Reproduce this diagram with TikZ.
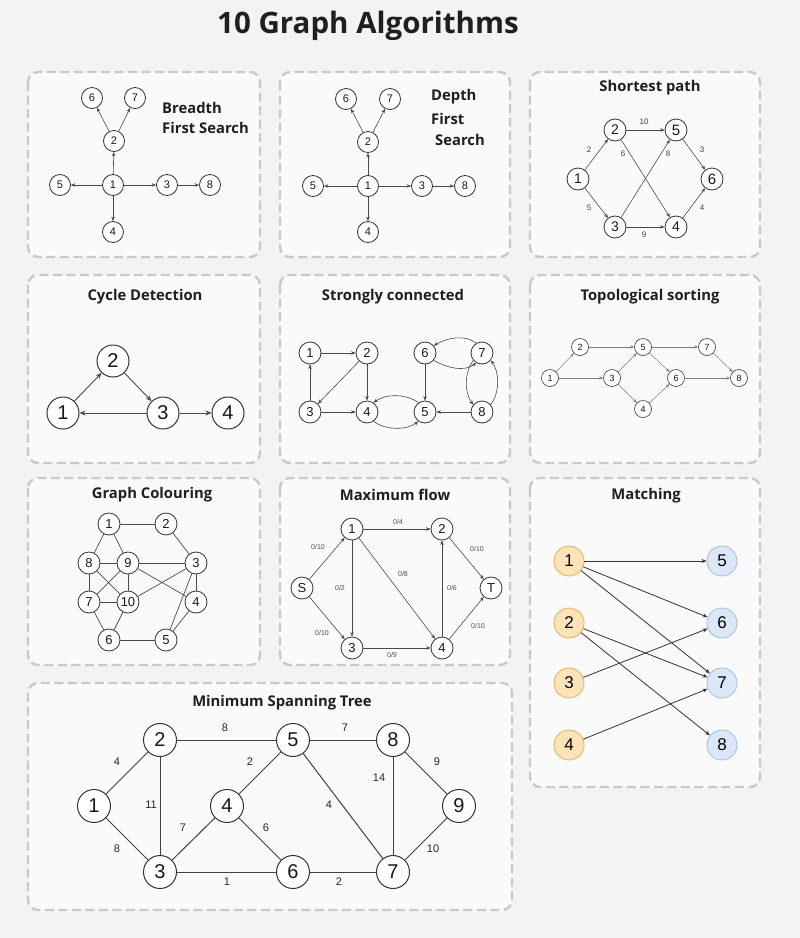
\documentclass[tikz,border=0pt]{standalone}
\usepackage{fontspec}
\setmainfont{Liberation Sans}
\newfontfamily\tf{Open Sans}
\usetikzlibrary{arrows.meta}
\definecolor{bgc}{HTML}{F3F3F3}
\definecolor{pnl}{HTML}{FAFAFA}
\definecolor{pbd}{HTML}{C9C9C9}
\definecolor{edg}{HTML}{4A4A4A}
\definecolor{orf}{HTML}{FCE3B8}
\definecolor{ord}{HTML}{E8B466}
\definecolor{blf}{HTML}{DCE8F7}
\definecolor{bld}{HTML}{A3C2E6}
\tikzset{
  panel/.style={draw=pbd, fill=pnl, line width=2.4pt, dash pattern=on 9pt off 4.5pt, rounded corners=10pt},
  ptitle/.style={font=\tf\bfseries\fontsize{14.8}{16}\selectfont, text=black!88, inner sep=0pt},
  vx/.style={circle, draw=black!80, fill=white, line width=0.8pt, inner sep=0pt, text=black!90},
  vbfs/.style={vx, minimum size=21pt, font=\fontsize{11}{12}\selectfont},
  vsp/.style={vx, minimum size=22pt, font=\fontsize{14}{15}\selectfont},
  vbig/.style={vx, minimum size=32pt, line width=1pt, font=\fontsize{20}{22}\selectfont},
  vmid/.style={vx, minimum size=22pt, font=\fontsize{13}{14}\selectfont},
  vtop/.style={vx, minimum size=17pt, line width=0.6pt, font=\fontsize{9}{10}\selectfont},
  vml/.style={circle, inner sep=0pt, minimum size=30pt, line width=0.9pt, draw=ord, fill=orf, font=\fontsize{17}{18}\selectfont},
  vmr/.style={circle, inner sep=0pt, minimum size=30pt, line width=0.9pt, draw=bld, fill=blf, font=\fontsize{17}{18}\selectfont},
  arr/.style={draw=edg, line width=0.6pt, -{Stealth[length=4.5pt,width=3.5pt]}},
  arrm/.style={draw=black!80, line width=0.8pt, -{Stealth[length=5pt,width=4pt]}},
  arrl/.style={draw=black!50, line width=0.5pt, -{Stealth[length=4pt,width=3pt]}},
  arrb/.style={draw=edg, line width=0.9pt, -{Stealth[length=6pt,width=5pt]}},
  ln/.style={draw=edg, line width=0.7pt},
  lnb/.style={draw=black!75, line width=1pt},
  wl/.style={font=\fontsize{8}{9}\selectfont, text=black!75, inner sep=0pt},
  wf/.style={font=\fontsize{7}{8}\selectfont, text=black!70, inner sep=0pt},
  wm/.style={font=\fontsize{11}{12}\selectfont, text=black!85, inner sep=0pt},
}
\begin{document}
\begin{tikzpicture}[x=1pt,y=-1pt]
\useasboundingbox (0,0) rectangle (800,938);
\fill[bgc] (0,0) rectangle (800,938);

% main title
\node[font=\tf\bfseries\fontsize{29.5}{31}\selectfont, text=black!88, inner sep=0pt] (maintitle) at (368,26) {10 Graph Algorithms};

% panels
\draw[panel] (28,72) rectangle (260,257);
\draw[panel] (280,72) rectangle (510,257);
\draw[panel] (530,72) rectangle (760,257);
\draw[panel] (28,275) rectangle (260,463);
\draw[panel] (280,275) rectangle (510,463);
\draw[panel] (530,275) rectangle (760,463);
\draw[panel] (28,478) rectangle (260,665);
\draw[panel] (280,478) rectangle (510,665);
\draw[panel] (530,478) rectangle (760,787);
\draw[panel] (28,683) rectangle (512,910);

% ---------- BFS ----------
\node[ptitle, anchor=west] (bt1) at (162,108) {Breadth};
\node[ptitle, anchor=west] (bt2) at (162,128) {First Search};
\node[vbfs] (b1) at (113,185) {1};
\node[vbfs] (b2) at (114,141) {2};
\node[vbfs] (b6) at (92,98) {6};
\node[vbfs] (b7) at (135,98) {7};
\node[vbfs] (b5) at (60,185) {5};
\node[vbfs] (b3) at (167,185) {3};
\node[vbfs] (b8) at (210,185) {8};
\node[vbfs] (b4) at (113,232) {4};
\draw[arr] (b1) -- (b2);
\draw[arr] (b2) -- (b6);
\draw[arr] (b2) -- (b7);
\draw[arr] (b1) -- (b5);
\draw[arr] (b1) -- (b3);
\draw[arr] (b3) -- (b8);
\draw[arr] (b1) -- (b4);

% ---------- DFS ----------
\node[ptitle, anchor=west] (dt1) at (431,97) {Depth};
\node[ptitle, anchor=west] (dt2) at (431,119) {First};
\node[ptitle, anchor=west] (dt3) at (435,140) {Search};
\node[vbfs] (d1) at (368,186) {1};
\node[vbfs] (d2) at (368,142) {2};
\node[vbfs] (d6) at (346,99) {6};
\node[vbfs] (d7) at (390,99) {7};
\node[vbfs] (d5) at (313,186) {5};
\node[vbfs] (d3) at (422,186) {3};
\node[vbfs] (d8) at (465,186) {8};
\node[vbfs] (d4) at (368,232) {4};
\draw[arr] (d1) -- (d2);
\draw[arr] (d2) -- (d6);
\draw[arr] (d2) -- (d7);
\draw[arr] (d1) -- (d5);
\draw[arr] (d1) -- (d3);
\draw[arr] (d3) -- (d8);
\draw[arr] (d1) -- (d4);

% ---------- Shortest path ----------
\node[ptitle] (spt) at (650,88) {Shortest path};
\node[vsp] (sp1) at (578,179) {1};
\node[vsp] (sp2) at (615,130) {2};
\node[vsp, font=\fontsize{15}{16}\selectfont] (sp5) at (676,130) {5};
\node[vsp, font=\fontsize{15}{16}\selectfont] (sp6) at (712,179) {6};
\node[vsp] (sp3) at (615,227) {3};
\node[vsp] (sp4) at (676,227) {4};
\draw[arr] (sp1) -- (sp2);
\draw[arr] (sp1) -- (sp3);
\draw[arr] (sp2) -- (sp5);
\draw[arr] (sp2) -- (sp4);
\draw[arr] (sp3) -- (sp5);
\draw[arr] (sp3) -- (sp4);
\draw[arr] (sp5) -- (sp6);
\draw[arr] (sp4) -- (sp6);
\node[wl] (spw1) at (644,122) {10};
\node[wl] (spw2) at (589,150) {2};
\node[wl] (spw3) at (623,154) {6};
\node[wl] (spw4) at (668,154) {8};
\node[wl] (spw5) at (702,150) {3};
\node[wl] (spw6) at (589,208) {5};
\node[wl] (spw7) at (702,208) {4};
\node[wl] (spw8) at (644,235) {9};

% ---------- Cycle detection ----------
\node[ptitle] (cyt) at (145,297) {Cycle Detection};
\node[vbig] (c1) at (63,413) {1};
\node[vbig] (c2) at (113,361) {2};
\node[vbig] (c3) at (163,413) {3};
\node[vbig] (c4) at (228,413) {4};
\draw[arrb] (c1) -- (c2);
\draw[arrb] (c2) -- (c3);
\draw[arrb] (c3) -- (c1);
\draw[arrb] (c3) -- (c4);

% ---------- Strongly connected ----------
\node[ptitle] (sct) at (393,297) {Strongly connected};
\node[vmid] (s1) at (310,353) {1};
\node[vmid] (s2) at (367,353) {2};
\node[vmid] (s6) at (425,353) {6};
\node[vmid] (s7) at (482,353) {7};
\node[vmid] (s3) at (310,412) {3};
\node[vmid] (s4) at (367,412) {4};
\node[vmid] (s5) at (425,412) {5};
\node[vmid] (s8) at (482,412) {8};
\draw[arr] (s1) -- (s2);
\draw[arr] (s3) -- (s1);
\draw[arr] (s2) -- (s3);
\draw[arr] (s2) -- (s4);
\draw[arr] (s3) -- (s4);
\draw[arr] (s6) -- (s5);
\draw[arr] (s8) -- (s5);
\draw[arr] (s5.125) .. controls +(-12,-9) and +(12,-9) .. (s4.55);
\draw[arr] (s4.-55) .. controls +(12,9) and +(-12,9) .. (s5.-125);
\draw[arr] (s7.120) .. controls +(-12,-9) and +(14,-8) .. (s6.40);
\draw[arr] (s6.-40) .. controls +(14,8) and +(-12,9) .. (s7.-120);
\draw[arr] (s7.-140) .. controls +(-9,12) and +(-9,-12) .. (s8.140);
\draw[arr] (s8.40) .. controls +(9,-12) and +(9,12) .. (s7.-40);

% ---------- Topological sorting ----------
\node[ptitle] (tst) at (650,297) {Topological sorting};
\node[vtop] (t1) at (550,378) {1};
\node[vtop] (t2) at (580,347) {2};
\node[vtop] (t3) at (612,378) {3};
\node[vtop] (t5) at (643,347) {5};
\node[vtop] (t4) at (643,409) {4};
\node[vtop] (t6) at (676,378) {6};
\node[vtop] (t7) at (707,347) {7};
\node[vtop] (t8) at (739,378) {8};
\draw[arrl] (t1) -- (t2);
\draw[arrl] (t1) -- (t3);
\draw[arrl] (t2) -- (t5);
\draw[arrl] (t3) -- (t5);
\draw[arrl] (t3) -- (t4);
\draw[arrl] (t5) -- (t6);
\draw[arrl] (t4) -- (t6);
\draw[arrl] (t5) -- (t7);
\draw[arrl] (t7) -- (t8);
\draw[arrl] (t6) -- (t8);

% ---------- Graph colouring ----------
\node[ptitle] (gct) at (152,495) {Graph Colouring};
\node[vmid] (g1) at (109,524) {1};
\node[vmid] (g2) at (166,524) {2};
\node[vmid] (g8) at (89,563) {8};
\node[vmid] (g9) at (128,563) {9};
\node[vmid] (g3) at (196,563) {3};
\node[vmid] (g7) at (89,602) {7};
\node[vmid] (g10) at (128,602) {10};
\node[vmid] (g4) at (196,602) {4};
\node[vmid] (g6) at (109,640) {6};
\node[vmid] (g5) at (166,640) {5};
\draw[ln] (g1) -- (g2);
\draw[ln] (g1) -- (g8);
\draw[ln] (g1) -- (g9);
\draw[ln] (g2) -- (g3);
\draw[ln] (g8) -- (g9);
\draw[ln] (g9) -- (g3);
\draw[ln] (g8) -- (g7);
\draw[ln] (g8) -- (g10);
\draw[ln] (g9) -- (g7);
\draw[ln] (g9) -- (g10);
\draw[ln] (g9) -- (g4);
\draw[ln] (g7) -- (g10);
\draw[ln] (g10) -- (g3);
\draw[ln] (g3) -- (g4);
\draw[ln] (g3) -- (g5);
\draw[ln] (g7) -- (g6);
\draw[ln] (g10) -- (g6);
\draw[ln] (g6) -- (g5);
\draw[ln] (g4) -- (g5);

% ---------- Maximum flow ----------
\node[ptitle] (mft) at (395,495) {Maximum flow};
\node[vmid] (m1) at (352,529) {1};
\node[vmid] (m2) at (442,529) {2};
\node[vmid] (mS) at (302,588) {S};
\node[vmid] (mT) at (491,588) {T};
\node[vmid] (m3) at (352,648) {3};
\node[vmid] (m4) at (442,648) {4};
\draw[arr] (mS) -- (m1);
\draw[arr] (mS) -- (m3);
\draw[arr] (m1) -- (m2);
\draw[arr] (m1) -- (m3);
\draw[arr] (m1) -- (m4);
\draw[arr] (m4) -- (m2);
\draw[arr] (m2) -- (mT);
\draw[arr] (m4) -- (mT);
\draw[arr] (m3) -- (m4);
\node[wf] (mw1) at (318,547) {0/10};
\node[wf] (mw2) at (398,522) {0/4};
\node[wf] (mw3) at (477,549) {0/10};
\node[wf] (mw4) at (403,574) {0/8};
\node[wf] (mw5) at (340,588) {0/2};
\node[wf] (mw6) at (452,588) {0/6};
\node[wf] (mw7) at (322,633) {0/10};
\node[wf] (mw8) at (478,626) {0/10};
\node[wf] (mw9) at (392,655) {0/9};

% ---------- Matching ----------
\node[ptitle] (mat) at (646,496) {Matching};
\node[vml] (L1) at (569,561) {1};
\node[vml] (L2) at (569,623) {2};
\node[vml] (L3) at (569,683) {3};
\node[vml] (L4) at (569,745) {4};
\node[vmr] (R5) at (722,561) {5};
\node[vmr] (R6) at (722,623) {6};
\node[vmr] (R7) at (722,683) {7};
\node[vmr] (R8) at (722,745) {8};
\draw[arrm] (L1) -- (R5);
\draw[arrm] (L1) -- (R6);
\draw[arrm] (L1) -- (R7);
\draw[arrm] (L2) -- (R7);
\draw[arrm] (L2) -- (R8);
\draw[arrm] (L3) -- (R6);
\draw[arrm] (L4) -- (R7);

% ---------- MST ----------
\node[ptitle] (mstt) at (282,703) {Minimum Spanning Tree};
\node[vbig, minimum size=33pt] (n1) at (94,806) {1};
\node[vbig, minimum size=33pt] (n2) at (160,740) {2};
\node[vbig, minimum size=33pt] (n3) at (160,872) {3};
\node[vbig, minimum size=33pt] (n4) at (227,806) {4};
\node[vbig, minimum size=33pt] (n5) at (293,740) {5};
\node[vbig, minimum size=33pt] (n6) at (293,872) {6};
\node[vbig, minimum size=33pt] (n8) at (393,740) {8};
\node[vbig, minimum size=33pt] (n7) at (393,872) {7};
\node[vbig, minimum size=33pt] (n9) at (459,806) {9};
\draw[lnb] (n1) -- (n2);
\draw[lnb] (n1) -- (n3);
\draw[lnb] (n2) -- (n5);
\draw[lnb] (n2) -- (n3);
\draw[lnb] (n3) -- (n4);
\draw[lnb] (n4) -- (n5);
\draw[lnb] (n4) -- (n6);
\draw[lnb] (n3) -- (n6);
\draw[lnb] (n5) -- (n8);
\draw[lnb] (n5) -- (n7);
\draw[lnb] (n6) -- (n7);
\draw[lnb] (n8) -- (n7);
\draw[lnb] (n8) -- (n9);
\draw[lnb] (n9) -- (n7);
\node[wm] (nw1) at (117,762) {4};
\node[wm] (nw2) at (225,728) {8};
\node[wm] (nw3) at (345,728) {7};
\node[wm] (nw4) at (250,762) {2};
\node[wm] (nw5) at (151,805) {11};
\node[wm] (nw6) at (329,805) {4};
\node[wm] (nw7) at (379,778) {14};
\node[wm] (nw8) at (437,762) {9};
\node[wm] (nw9) at (183,828) {7};
\node[wm] (nw10) at (266,828) {6};
\node[wm] (nw11) at (117,849) {8};
\node[wm] (nw12) at (433,849) {10};
\node[wm] (nw13) at (227,882) {1};
\node[wm] (nw14) at (339,882) {2};
\end{tikzpicture}
\end{document}
